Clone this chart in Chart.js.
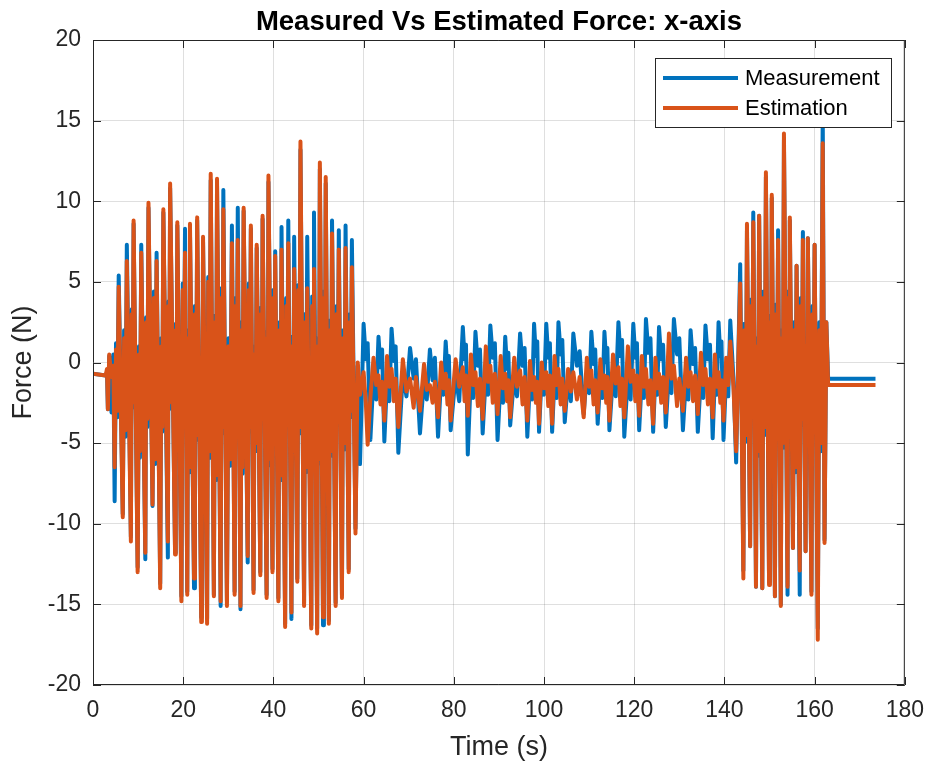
<!DOCTYPE html>
<html>
<head>
<meta charset="utf-8">
<script src="https://cdn.jsdelivr.net/npm/chart.js@4.4.1/dist/chart.umd.min.js"></script>
<style>
  html, body { margin: 0; padding: 0; background: #fff; }
  #wrap { width: 936px; height: 767px; }
</style>
</head>
<body>
<div id="wrap"><canvas id="forceChart" width="936" height="767"></canvas></div>
<script>
// Values (swings of each oscillation)
const time = [
    0, 2.8, 3.1, 3.3, 3.6, 4.1, 4.5,
    // first excitation burst
    4.8, 5.1, 5.4, 5.7, 6.6, 6.9, 7.2, 7.5, 8.4, 8.6, 8.8, 9.0, 9.9, 10.2, 10.4, 10.7,
    11.6, 11.8, 12.05, 12.3, 13.2, 13.5, 13.8, 14.1, 14.9, 15.15, 15.35, 15.6, 16.6, 16.75, 16.9, 17.1,
    18.2, 18.35, 18.5, 18.7, 19.6, 19.9, 20.1, 20.4, 20.9, 21.1, 21.3, 21.5, 22.4, 22.6, 22.85, 23.1,
    24.0, 24.15, 24.25, 24.4, 25.3, 25.55, 25.8, 26.1, 26.8, 27.05, 27.25, 27.5, 28.3, 28.5, 28.7, 28.9,
    29.7, 30.05, 30.4, 30.8, 31.4, 31.65, 31.85, 32.1, 32.7, 32.95, 33.15, 33.4, 34.3, 34.55, 34.75, 35.0,
    35.6, 35.85, 36.05, 36.3, 37.1, 37.25, 37.45, 37.6, 38.5, 38.65, 38.75, 38.9, 39.8, 40.0, 40.2, 40.4,
    41.1, 41.35, 41.55, 41.8, 42.6, 42.85, 43.05, 43.3, 44.0, 44.2, 44.4, 44.6, 45.3, 45.55, 45.75, 46.0,
    46.8, 47.05, 47.25, 47.5, 48.4, 48.6, 48.8, 49.0, 49.7, 49.9, 50.1, 50.3, 51.0, 51.2, 51.4, 51.6,
    52.3, 52.55, 52.75, 53.0, 53.8, 54.05, 54.25, 54.5, 55.2, 55.45, 55.75, 56.0, 56.7, 56.95, 57.15, 57.4,
    58.2, 58.7, 59.2,
    // quiet middle part
    60.0, 60.5, 60.9, 61.5, 62.2, 62.8, 63.3, 63.75, 64.1, 64.6, 65.2, 65.7,
    66.2, 66.7, 67.1, 67.7, 68.7, 69.5, 70.3, 71.1, 71.6, 72.5, 73.4, 74.0,
    74.7, 75.3, 75.8, 76.5, 77.2, 77.7, 78.2, 78.6, 78.9, 79.3, 80.4, 81.2,
    82.0, 82.4, 82.7, 83.1, 83.8, 84.3, 84.8, 85.35, 85.8, 86.4, 87.1, 87.6,
    88.1, 88.65, 89.1, 89.7, 90.4, 90.9, 91.4, 91.8, 92.1, 92.5, 93.4, 94.0,
    94.7, 95.25, 95.7, 96.3, 96.9, 97.35, 97.8, 98.2, 98.5, 98.9, 99.5, 100.0,
    100.5, 100.95, 101.3, 101.8, 102.35, 102.8, 103.2, 103.7, 104.05, 104.6, 105.35, 105.95,
    106.5, 107.3, 107.9, 108.8, 109.5, 110.0, 110.5, 111.0, 111.35, 111.9, 112.5, 112.95,
    113.4, 113.8, 114.05, 114.5, 115.3, 115.9, 116.5, 116.95, 117.3, 117.8, 118.6, 119.2,
    119.8, 120.25, 120.6, 121.1, 121.7, 122.15, 122.6, 123.15, 123.6, 124.2, 124.7, 125.1,
    125.5, 126.0, 126.4, 127.0, 127.7, 128.25, 128.8, 129.5, 130.0, 130.8, 131.5, 132.0,
    132.5, 133.05, 133.5, 134.1, 134.8, 135.3, 135.8, 136.35, 136.8, 137.4, 137.9, 138.3,
    138.7, 139.1, 139.35, 139.8, 140.4, 140.85, 141.3, 142.0, 142.6,
    // second excitation burst and rest
    143.5, 144.2, 144.45, 144.75, 145.0, 145.7, 145.95, 146.15, 146.4, 147.0, 147.25, 147.45, 147.7,
    148.4, 148.65, 148.95, 149.2, 149.9, 150.1, 150.3, 150.5, 151.2, 151.45, 151.65, 151.9,
    152.5, 152.75, 152.95, 153.2, 154.0, 154.15, 154.35, 154.5, 155.2, 155.45, 155.75, 156.0,
    156.7, 156.95, 157.15, 157.4, 158.0, 158.15, 158.35, 158.5, 159.3, 159.55, 159.75, 160.0,
    160.7, 161.05, 161.4, 161.8, 162.2, 162.6, 163.0, 173.5
];

const measured = [
    -0.7, -0.8, -0.6, -2.9, 0.4, -3.1, 0.5,
    -8.6, 1.2, -3.4, 5.4, -9.4, 2.0, -4.6, 7.3, -10.8, 3.3, -2.8, 8.6, -12.7, 1.0, -5.9, 7.3,
    -12.2, 2.8, -4.0, 9.6, -8.9, 4.4, -6.3, 6.8, -13.7, 1.5, -4.3, 9.3, -12.1, 3.8, -2.9, 10.8,
    -11.8, 2.4, -5.5, 8.5, -14.5, 4.9, -3.4, 8.3, -14.2, 2.0, -6.8, 8.2, -14.0, 3.5, -4.8, 8.8,
    -15.8, 0.4, -3.9, 7.5, -15.9, 5.3, -5.9, 11.3, -14.4, 2.9, -7.3, 11.0, -15.1, 4.6, -4.4, 10.7,
    -14.8, 1.5, -6.4, 8.5, -14.2, 4.0, -3.5, 9.6, -15.3, 2.5, -6.9, 9.4, -12.4, 4.9, -4.3, 8.3,
    -14.1, 1.0, -5.5, 7.1, -13.0, 3.4, -3.8, 8.9, -14.4, 1.9, -6.4, 11.2, -12.8, 4.5, -4.9, 6.9,
    -14.6, 2.5, -7.3, 8.4, -16.2, 4.0, -3.5, 8.8, -15.9, 1.6, -5.9, 7.8, -13.4, 4.8, -4.4, 13.2,
    -14.9, 3.0, -6.8, 7.8, -16.3, 4.1, -3.9, 9.3, -16.5, 1.5, -6.3, 12.0, -16.3, 4.4, -4.9, 11.1,
    -16.0, 2.6, -5.8, 8.8, -14.9, 3.5, -3.9, 8.2, -14.4, 2.0, -5.4, 8.5, -12.8, 3.0, -3.4, 7.6,
    -10.3, -0.2, -6.3,
    2.4, 0.2, 1.2, -4.8, -0.8, -2.3, 1.6, -0.3, 0.8, -4.9, -1.0, -2.4,
    2.1, 0.1, 1.0, -5.6, -0.7, -2.1, 0.9, -1.0, 0.2, -4.4, -1.0, -2.3,
    0.8, -1.1, 0.3, -4.6, -0.9, -2.0, 1.3, -0.6, 0.4, -4.2, -0.8, -2.4,
    2.2, 0.2, 1.1, -5.7, -0.6, -2.2, 1.9, -0.2, 0.8, -4.4, -0.7, -2.0,
    2.3, 0.3, 1.2, -4.8, -0.9, -2.5, 1.6, -0.4, 0.6, -3.9, -0.8, -2.1,
    1.8, -0.2, 0.9, -4.6, -1.0, -2.3, 2.4, 0.4, 1.3, -4.3, -0.6, -2.0,
    2.4, 0.3, 1.2, -4.3, -0.8, -2.2, 2.5, 0.5, 1.4, -3.7, -0.9, -2.4,
    1.8, -0.2, 0.7, -3.2, -0.6, -1.9, 1.9, -0.1, 0.8, -3.8, -0.9, -2.2,
    1.9, 0.0, 0.9, -4.2, -0.7, -2.1, 2.5, 0.4, 1.4, -4.6, -0.8, -2.3,
    2.4, 0.3, 1.2, -4.2, -0.9, -2.2, 2.7, 0.6, 1.5, -4.3, -0.7, -2.0,
    2.2, 0.2, 1.1, -4.0, -0.6, -1.9, 2.7, 0.5, 1.5, -4.2, -0.9, -2.3,
    2.0, -0.1, 0.9, -4.3, -0.8, -2.2, 2.3, 0.2, 1.1, -4.7, -0.7, -2.0,
    2.5, 0.4, 1.3, -4.8, -0.6, -2.1, 2.6, -1.0, -6.2,
    6.1, -12.9, 2.4, -4.9, 8.2, -11.4, 3.9, -3.4, 9.3, -13.9, 1.5, -5.8, 9.1,
    -14.0, 4.4, -4.5, 11.5, -13.6, 2.9, -6.3, 10.2, -14.5, 3.6, -3.9, 8.2,
    -15.0, 2.0, -5.3, 13.8, -14.4, 4.4, -4.9, 8.8, -11.5, 2.5, -6.8, 6.0,
    -14.4, 4.0, -3.9, 8.1, -11.7, 1.5, -5.4, 7.7, -14.2, 3.5, -4.4, 7.3,
    -16.5, 2.5, -5.5, 15.6, -11.0, 2.5, -1.0, -1.0
];

const estimated = [
    -0.7, -0.8, -0.4, -2.9, 0.5, -0.9, -0.2,
    -6.5, 0.8, -3.0, 4.7, -9.6, 1.5, -4.2, 6.3, -11.1, 3.0, -2.5, 8.8, -13.0, 0.5, -5.5, 6.8,
    -11.8, 2.5, -3.5, 9.9, -8.8, 4.0, -6.0, 6.3, -14.0, 1.0, -4.0, 9.5, -11.1, 3.5, -2.5, 11.1,
    -11.9, 2.0, -5.0, 8.7, -14.8, 4.5, -3.0, 6.8, -14.4, 1.5, -6.5, 8.6, -13.4, 3.0, -4.5, 9.0,
    -16.1, 0.0, -3.5, 7.8, -16.2, 5.0, -5.5, 11.7, -14.5, 2.5, -7.0, 11.4, -14.8, 4.0, -4.0, 9.5,
    -15.1, 1.0, -6.0, 7.4, -14.4, 3.5, -3.0, 7.6, -15.1, 2.0, -6.5, 9.6, -12.0, 4.5, -4.0, 8.5,
    -14.3, 0.5, -5.0, 7.3, -13.2, 3.0, -3.5, 9.1, -14.6, 1.5, -6.0, 11.6, -13.0, 4.0, -4.5, 6.6,
    -14.8, 2.0, -7.0, 7.0, -16.4, 3.5, -3.0, 7.4, -15.5, 1.0, -5.5, 5.8, -13.6, 4.5, -4.0, 13.7,
    -15.1, 2.5, -6.5, 4.6, -16.5, 3.5, -3.5, 5.8, -16.8, 1.0, -6.0, 12.4, -15.8, 4.0, -4.5, 11.5,
    -16.2, 2.0, -5.5, 8.0, -15.1, 3.0, -3.5, 7.0, -14.6, 1.5, -5.0, 7.1, -13.0, 2.5, -3.0, 5.9,
    -10.6, 0.0, -2.0,
    -0.6, -2.5, -5.1, -2.2, 0.3, -1.4, -0.8, -2.6, -1.2, -3.6, 0.4, -1.5,
    -0.4, -2.4, -1.0, -4.0, 0.2, -1.8, -1.0, -2.8, -0.9, -3.0, -0.1, -1.7,
    -1.4, -2.5, -1.2, -3.4, 0.0, -1.6, -0.7, -2.6, -1.1, -3.6, 0.2, -1.5,
    -0.3, -2.4, -0.8, -3.3, 0.5, -1.4, -0.6, -2.7, -1.0, -3.5, 1.0, -1.2,
    -0.2, -2.5, -0.7, -3.2, 0.4, -1.6, -0.7, -2.4, -1.1, -3.4, 0.3, -1.5,
    -0.5, -2.6, -0.9, -3.6, 0.1, -1.7, -0.9, -2.5, -1.2, -3.8, 0.0, -1.6,
    -0.6, -2.7, -0.8, -3.8, 0.4, -1.4, -0.4, -2.6, -1.0, -3.0, -0.4, -1.8,
    -0.6, -2.3, -0.9, -3.4, 0.3, -1.5, -0.5, -2.6, -1.1, -3.1, 0.2, -1.6,
    -0.8, -2.5, -0.9, -3.6, 0.5, -1.3, -0.3, -2.7, -1.0, -3.4, 1.0, -1.2,
    -0.5, -2.4, -0.8, -3.3, 0.4, -1.5, -0.4, -2.6, -1.1, -3.8, 0.3, -1.6,
    -0.7, -2.5, -0.9, -3.1, 1.8, -1.0, -0.2, -2.7, -1.0, -3.0, 0.3, -1.5,
    -0.6, -2.4, -0.8, -3.2, 0.6, -1.4, -0.4, -2.6, -1.0, -3.4, 0.5, -1.5,
    -0.6, -2.5, -1.1, -3.6, 0.3, -1.4, 1.3, -1.5, -5.5,
    4.9, -13.4, 2.0, -4.5, 8.6, -11.4, 3.5, -3.0, 8.7, -13.9, 1.0, -5.5, 9.1,
    -14.0, 4.0, -4.0, 11.8, -13.8, 2.5, -6.0, 10.4, -14.5, 3.0, -3.5, 7.6,
    -15.1, 1.5, -5.0, 14.2, -13.9, 4.0, -4.5, 9.0, -11.5, 2.0, -6.5, 6.0,
    -12.9, 3.5, -3.5, 7.6, -11.7, 1.0, -5.0, 7.7, -14.4, 3.0, -4.0, 7.3,
    -17.2, 2.0, -5.0, 13.6, -11.2, 2.5, -1.4, -1.4
];

const seriesLabels = ['Measurement', 'Estimation'];
const seriesColors = ['#0072BD', '#D95319'];
const xTicks = [0, 20, 40, 60, 80, 100, 120, 140, 160, 180];
const yTicks = [-20, -15, -10, -5, 0, 5, 10, 15, 20];
const chartTitle = 'Measured Vs Estimated Force: x-axis';

const fontFamily = "'Liberation Sans', Arial, Helvetica, sans-serif";
const axisInk = '#262626';

// MATLAB-like box, inward ticks, centred title and boxed legend
const axesFrame = {
    id: 'axesFrame',
    afterDatasetsDraw(chart) {
        const { ctx, chartArea: a, scales: { x, y } } = chart;
        ctx.save();
        ctx.strokeStyle = axisInk;
        ctx.lineWidth = 1;
        ctx.beginPath();
        ctx.rect(a.left + 0.5, a.top + 0.5, a.right - a.left - 1, a.bottom - a.top - 1);
        xTicks.forEach(v => {
            const px = Math.round(x.getPixelForValue(v)) + 0.5;
            ctx.moveTo(px, a.bottom); ctx.lineTo(px, a.bottom - 8);
            ctx.moveTo(px, a.top); ctx.lineTo(px, a.top + 8);
        });
        yTicks.forEach(v => {
            const py = Math.round(y.getPixelForValue(v)) + 0.5;
            ctx.moveTo(a.left, py); ctx.lineTo(a.left + 8, py);
            ctx.moveTo(a.right, py); ctx.lineTo(a.right - 8, py);
        });
        ctx.stroke();

        // title
        ctx.fillStyle = '#000';
        ctx.font = 'bold 27.5px ' + fontFamily;
        ctx.textAlign = 'center';
        ctx.textBaseline = 'middle';
        ctx.fillText(chartTitle, (a.left + a.right) / 2, 22);

        // legend
        const lx = 655, ly = 58, lw = 236, lh = 69;
        ctx.fillStyle = '#fff';
        ctx.fillRect(lx, ly, lw, lh);
        ctx.strokeStyle = axisInk;
        ctx.strokeRect(lx + 0.5, ly + 0.5, lw, lh);
        ctx.font = '22px ' + fontFamily;
        ctx.textAlign = 'left';
        seriesLabels.forEach((label, i) => {
            const rowY = ly + 20 + i * 30;
            ctx.strokeStyle = seriesColors[i];
            ctx.lineWidth = 4;
            ctx.beginPath();
            ctx.moveTo(lx + 8, rowY);
            ctx.lineTo(lx + 83, rowY);
            ctx.stroke();
            ctx.fillStyle = '#000';
            ctx.fillText(label, lx + 90, rowY + 1);
        });
        ctx.restore();
    }
};

const tickFont = { family: fontFamily, size: 23 };
const labelFont = { family: fontFamily, size: 27 };
const gridStyle = { color: 'rgba(38, 38, 38, 0.15)', lineWidth: 1, drawTicks: false };

new Chart(document.getElementById('forceChart'), {
    type: 'line',
    data: {
        datasets: [
            {
                label: seriesLabels[0],
                data: time.map((t, i) => ({ x: t, y: measured[i] })),
                borderColor: seriesColors[0],
                borderWidth: 4,
                borderJoinStyle: 'round',
                pointRadius: 0,
                tension: 0,
                order: 2
            },
            {
                label: seriesLabels[1],
                data: time.map((t, i) => ({ x: t, y: estimated[i] })),
                borderColor: seriesColors[1],
                borderWidth: 4,
                borderJoinStyle: 'round',
                pointRadius: 0,
                tension: 0,
                order: 1
            }
        ]
    },
    options: {
        responsive: false,
        animation: false,
        devicePixelRatio: 1,
        layout: { padding: { top: 40, right: 26, left: 0, bottom: 0 } },
        plugins: {
            legend: { display: false },
            title: { display: false },
            tooltip: { enabled: false }
        },
        scales: {
            x: {
                type: 'linear',
                min: 0,
                max: 180,
                afterBuildTicks: s => { s.ticks = xTicks.map(v => ({ value: v })); },
                afterFit: s => { s.height = 82; },
                grid: gridStyle,
                border: { display: false },
                ticks: { font: tickFont, color: axisInk, padding: 12, maxRotation: 0 },
                title: { display: true, text: 'Time (s)', font: labelFont, color: axisInk, padding: { top: 0, bottom: 3 } }
            },
            y: {
                type: 'linear',
                min: -20,
                max: 20,
                afterBuildTicks: s => { s.ticks = yTicks.map(v => ({ value: v })); },
                afterFit: s => { s.width = 93; },
                grid: gridStyle,
                border: { display: false },
                ticks: { font: tickFont, color: axisInk, padding: 12 },
                title: { display: true, text: 'Force (N)', font: labelFont, color: axisInk, padding: { top: 7, bottom: 0 } }
            }
        }
    },
    plugins: [axesFrame]
});
</script>
</body>
</html>
